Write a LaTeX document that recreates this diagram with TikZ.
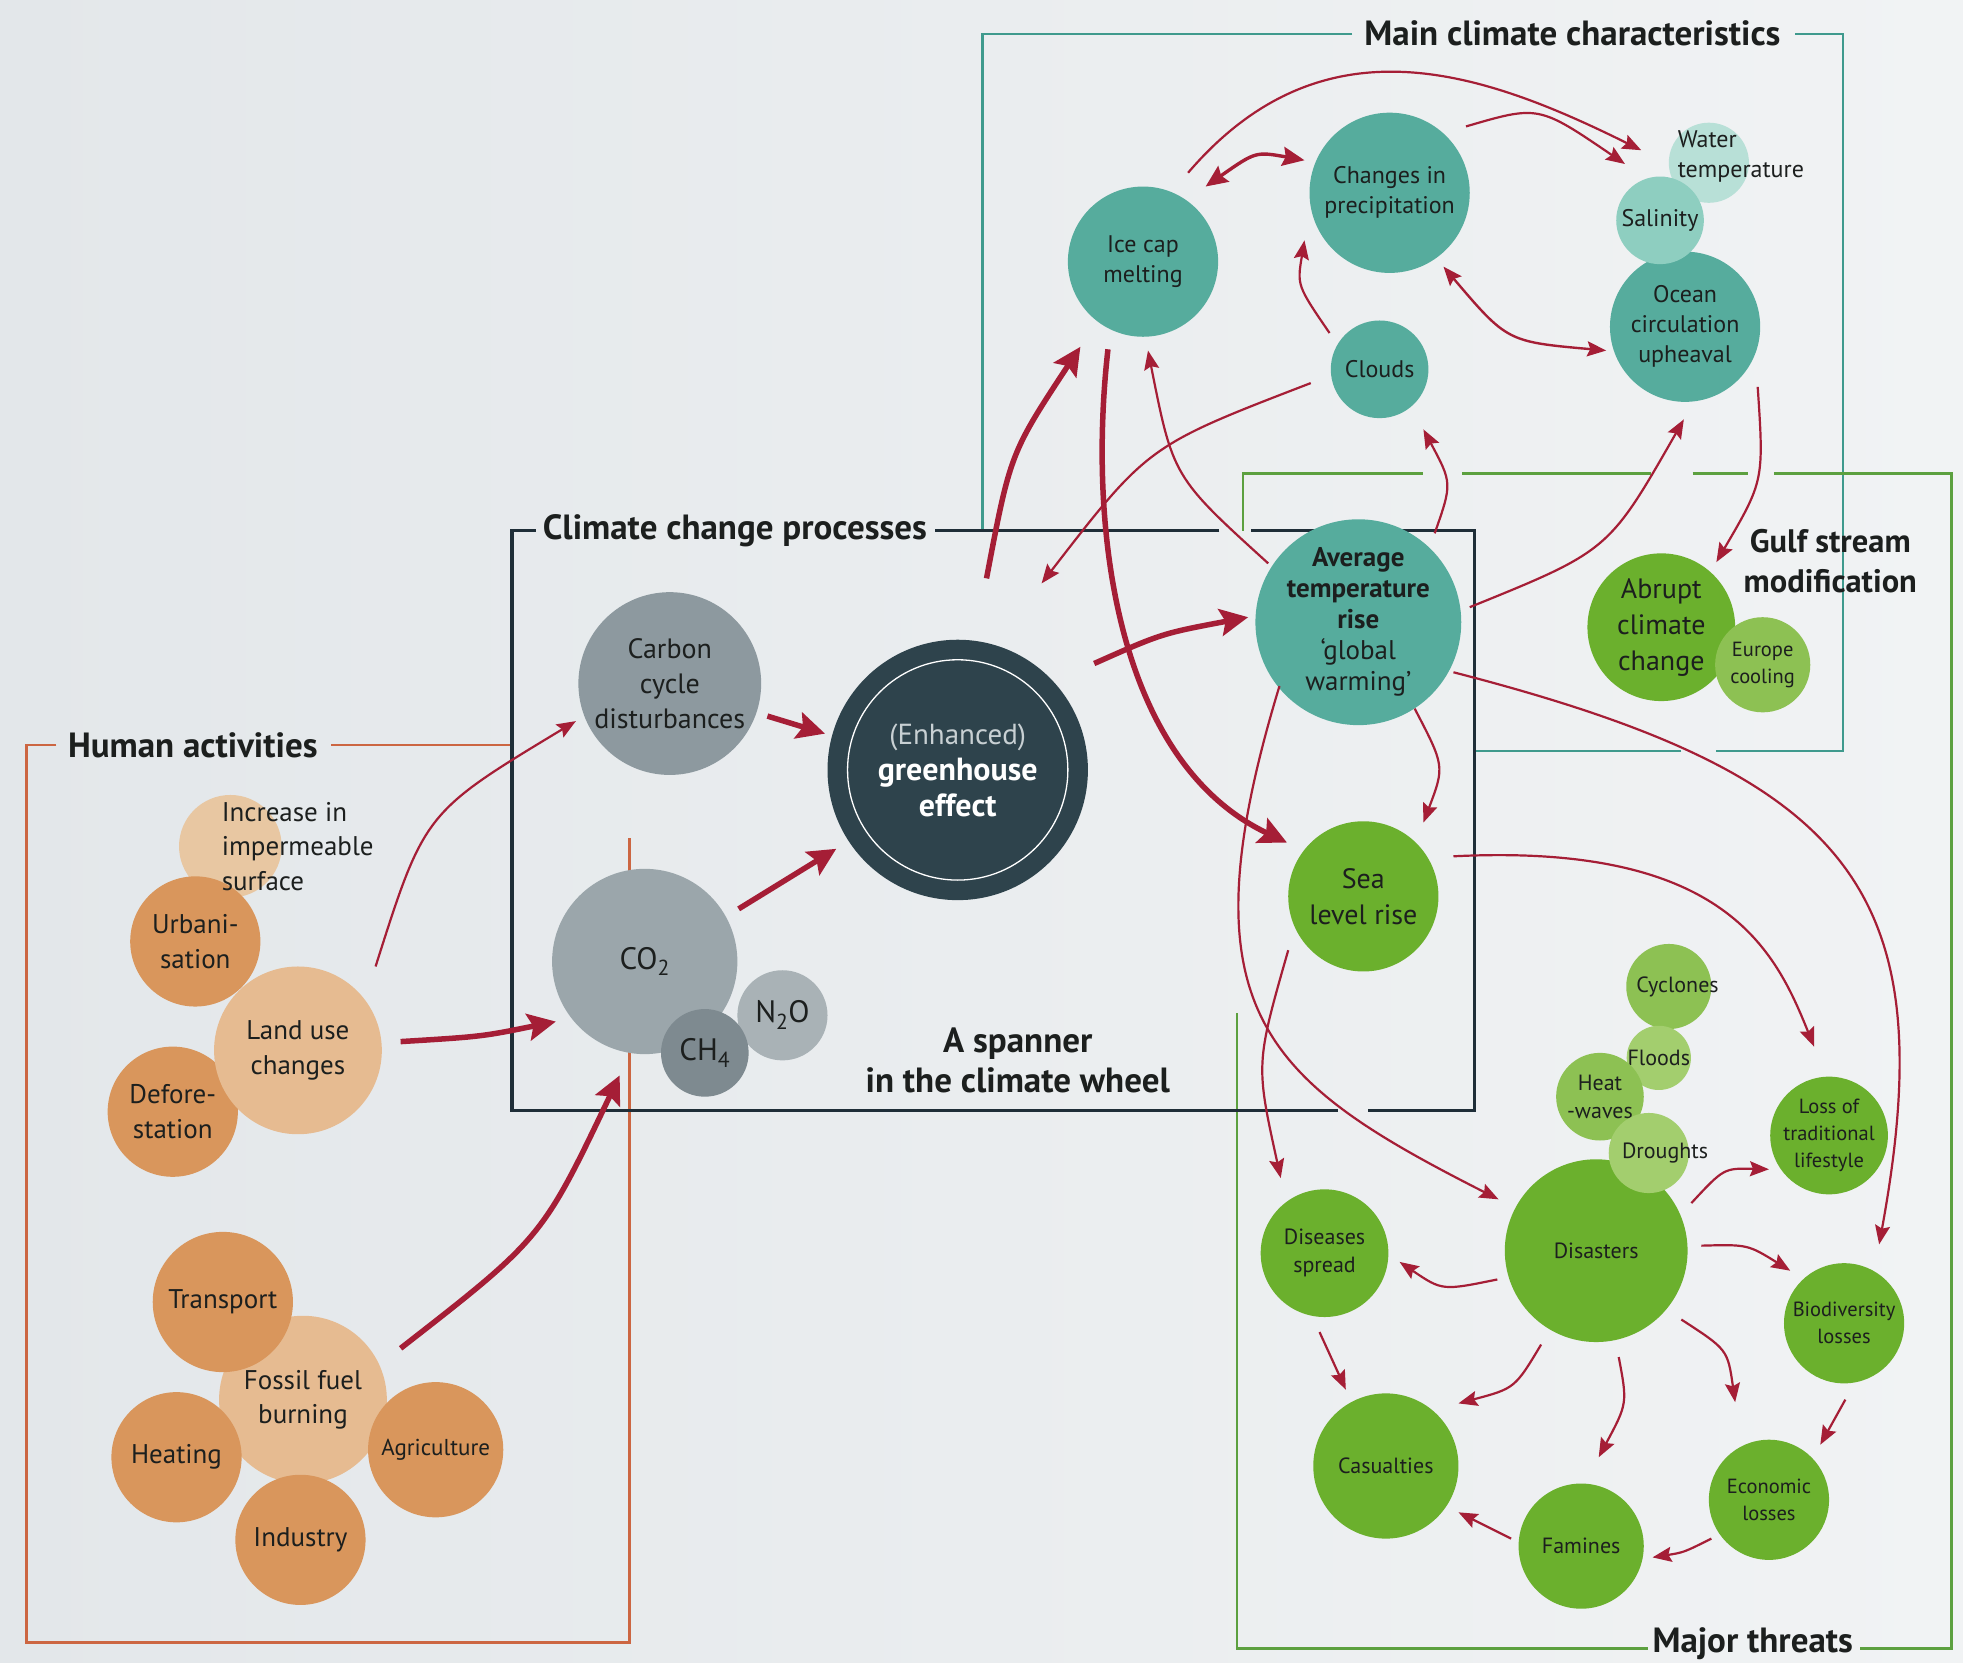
\documentclass[tikz,border=0pt]{standalone}
\usepackage{fontspec}
\setmainfont{PT Sans}
\usetikzlibrary{arrows.meta,calc}
\definecolor{bgL}{HTML}{E3E7EA}
\definecolor{bgR}{HTML}{F1F3F4}
\definecolor{redarrow}{HTML}{A51E36}
\definecolor{frOrange}{HTML}{CC6642}
\definecolor{frDark}{HTML}{1F2E38}
\definecolor{frTeal}{HTML}{3F9A8D}
\definecolor{frGreen}{HTML}{5CA03F}
\definecolor{txt}{HTML}{1C1F1E}
\definecolor{orD}{HTML}{D9965C}
\definecolor{orL}{HTML}{E6BB91}
\definecolor{orLL}{HTML}{E8C7A2}
\definecolor{grA}{HTML}{8D999F}
\definecolor{grB}{HTML}{9BA6AB}
\definecolor{grC}{HTML}{7E8A90}
\definecolor{grD}{HTML}{A9B2B6}
\definecolor{ghc}{HTML}{2E434C}
\definecolor{teA}{HTML}{56AC9D}
\definecolor{teB}{HTML}{8ECEC0}
\definecolor{teC}{HTML}{B8E0D7}
\definecolor{gnA}{HTML}{6BB02D}
\definecolor{gnB}{HTML}{8DC153}
\definecolor{gnC}{HTML}{A3CE6E}
\definecolor{enh}{HTML}{C8D0D3}
\newcommand\fHA{\fontsize{27}{34.5}\selectfont}
\newcommand\fHAs{\fontsize{23}{28}\selectfont}
\newcommand\fGR{\fontsize{28}{35}\selectfont}
\newcommand\fGAS{\fontsize{31}{36}\selectfont}
\newcommand\fGH{\fontsize{29}{36}\selectfont}
\newcommand\fGHb{\bfseries\fontsize{32}{36}\selectfont}
\newcommand\fTE{\fontsize{24}{30}\selectfont}
\newcommand\fAV{\fontsize{27}{31}\selectfont}
\newcommand\fBG{\fontsize{28}{36}\selectfont}
\newcommand\fTH{\fontsize{22}{28}\selectfont}
\newcommand\fSM{\fontsize{20.5}{27}\selectfont}
\newcommand\fTI{\bfseries\fontsize{35}{40}\selectfont}
\begin{document}
\begin{tikzpicture}[x=1.2519pt,y=-1.2519pt,
  circ/.style={circle,inner sep=0pt,minimum size={2.5038pt*#1},align=center,text=txt},
  tarr/.style={draw=redarrow,line width=2.2pt,-{Stealth[length=19pt,width=15pt,inset=3pt]}},
  karr/.style={draw=redarrow,line width=5.5pt,-{Stealth[length=28pt,width=27pt,inset=5pt]}},
  darr/.style={draw=redarrow,line width=2.4pt,{Stealth[length=19pt,width=15pt,inset=3pt]}-{Stealth[length=19pt,width=15pt,inset=3pt]}},
  marr/.style={draw=redarrow,line width=3.4pt,{Stealth[length=22pt,width=19pt,inset=3pt]}-{Stealth[length=22pt,width=19pt,inset=3pt]}},
  ttl/.style={font=\fTI,text=txt,align=center,inner sep=0pt},
  fro/.style={draw=frOrange,line width=2.6pt},
  frd/.style={draw=frDark,line width=3.2pt},
  frt/.style={draw=frTeal,line width=2.6pt},
  frg/.style={draw=frGreen,line width=2.6pt},
  lbl/.style={inner sep=0pt,text=txt,align=center}]
\useasboundingbox (0,0) rectangle (1568,1328);
\shade[left color=bgL,right color=bgR] (0,0) rectangle (1568,1328);

% ---------- frames ----------
\draw[fro] (409,595) -- (264,595);
\draw[fro] (45,595) -- (21,595) -- (21,1312) -- (503,1312) -- (503,669);
\draw[frt] (1080,27) -- (785,27) -- (785,424);
\draw[frt] (1434,27) -- (1472,27) -- (1472,600) -- (1371,600);
\draw[frt] (1343,600) -- (1178,600);
\draw[frg] (993,424) -- (993,378) -- (1137,378);
\draw[frg] (1168,378) -- (1319,378);
\draw[frg] (1352,378) -- (1396,378);
\draw[frg] (1417,378) -- (1559,378) -- (1559,1317) -- (1486,1317);
\draw[frg] (1316,1317) -- (988,1317) -- (988,809);
\draw[frd] (428,424) -- (409,424) -- (409,887) -- (1069,887);
\draw[frd] (1093,887) -- (1178,887) -- (1178,424) -- (999,424);
\draw[frd] (974,424) -- (747,424);

% ---------- titles ----------
\node[ttl] (tHuman) at (154,595) {Human activities};
\node[ttl] (tProc) at (587,424) {Climate change processes};
\node[ttl] (tMain) at (1256,27) {Main climate characteristics};
\node[ttl,font=\bfseries\fontsize{32.5}{40}\selectfont] (tGulf) at (1462,448) {Gulf stream\\modification};
\node[ttl] (tThreat) at (1400,1313) {Major threats};
\node[ttl] (tSpanner) at (813,847) {A spanner\\in the climate wheel};

% ---------- human activities ----------
\node[circ=41,fill=orLL] (inc) at (184,676) {};
\node[circ=52,fill=orD,font=\fHA] (urb) at (156,752) {Urbani-\\sation};
\node[lbl,anchor=west,align=left,font=\fHA] (inct) at (177,676) {Increase in\\impermeable\\surface};
\node[circ=52,fill=orD,font=\fHA] (defo) at (138,888) {Defore-\\station};
\node[circ=67,fill=orL,font=\fHA] (land) at (238,839) {Land use\\changes};
\node[circ=67,fill=orL,font=\fHA] (fossil) at (242,1118) {Fossil fuel\\burning};
\node[circ=56,fill=orD,font=\fHA] (trans) at (178,1040) {Transport};
\node[circ=52,fill=orD,font=\fHA] (heat) at (141,1164) {Heating};
\node[circ=54,fill=orD,font=\fHAs] (agri) at (348,1158) {Agriculture};
\node[circ=52,fill=orD,font=\fHA] (indus) at (240,1230) {Industry};

% ---------- processes ----------
\node[circ=73,fill=grA,font=\fGR] (carbon) at (535,546) {Carbon\\cycle\\disturbances};
\node[circ=74,fill=grB,font=\fGAS] (co2) at (515,768) {CO\textsubscript{2}};
\node[circ=36,fill=grD,font=\fGAS] (n2o) at (625,811) {N\textsubscript{2}O};
\node[circ=35,fill=grC,font=\fGAS] (ch4) at (563,841) {CH\textsubscript{4}};
\node[circ=104,fill=ghc,text=white,font=\fGH] (ghe) at (765,615) {{\color{enh}(Enhanced)}\\\fGHb greenhouse\\\fGHb effect};
\draw[white,line width=1.3pt] (ghe) circle[radius=88];

% ---------- main climate characteristics ----------
\node[circ=32,fill=teC] (water) at (1365,130) {};
\node[circ=60,fill=teA,font=\fTE] (ocean) at (1346,261) {Ocean\\circulation\\upheaval};
\node[circ=35,fill=teB,font=\fTE] (salin) at (1326,176) {Salinity};
\node[lbl,anchor=west,align=left,font=\fTE] (watert) at (1340,125) {Water\\temperature};
\node[circ=60,fill=teA,font=\fTE] (ice) at (913,209) {Ice cap\\melting};
\node[circ=64,fill=teA,font=\fTE] (precip) at (1110,154) {Changes in\\precipitation};
\node[circ=39,fill=teA,font=\fTE] (clouds) at (1102,295) {Clouds};
\node[circ=73,fill=teA,font=\fAV] (avg) at (1085,497) {\bfseries Average\\\bfseries temperature\\\bfseries rise\\‘global\\warming’};

% ---------- gulf stream ----------
\node[circ=59,fill=gnA,font=\fBG] (abrupt) at (1327,501) {Abrupt\\climate\\change};
\node[circ=38,fill=gnB,font=\fSM] (europe) at (1408,531) {Europe\\cooling};

% ---------- threats ----------
\node[circ=60,fill=gnA,font=\fBG] (sea) at (1089,716) {Sea\\level rise};
\node[circ=34,fill=gnB] (cyc) at (1333,788) {};
\node[lbl,font=\fTH] (cyct) at (1340,788) {Cyclones};
\node[circ=24,fill=gnC,font=\fTH] (flood) at (1325,845) {Floods};
\node[circ=35,fill=gnB,font=\fTH] (heatw) at (1278,876) {Heat\\-waves};
\node[circ=73,fill=gnA,font=\fTH] (dis) at (1275,999) {Disasters};
\node[circ=32,fill=gnC] (drought) at (1317,921) {};
\node[lbl,font=\fTH] (droughtt) at (1330,921) {Droughts};
\node[circ=47,fill=gnA,font=\fSM] (loss) at (1461,907) {Loss of\\traditional\\lifestyle};
\node[circ=51,fill=gnA,font=\fTH] (dise) at (1058,1001) {Diseases\\spread};
\node[circ=48,fill=gnA,font=\fSM] (bio) at (1473,1057) {Biodiversity\\losses};
\node[circ=58,fill=gnA,font=\fTH] (cas) at (1107,1171) {Casualties};
\node[circ=48,fill=gnA,font=\fSM] (econ) at (1413,1198) {Economic\\losses};
\node[circ=50,fill=gnA,font=\fTH] (fam) at (1263,1235) {Famines};

% ---------- arrows: human activities -> processes ----------
\draw[tarr] ($(land)+(62,-67)$) .. controls (339,649) .. ($(carbon)+(-75,30)$);
\draw[karr] ($(land)+(82,-7)$) .. controls (385,828) .. ($(co2)+(-71,48)$);
\draw[karr] ($(fossil)+(78,-41)$) .. controls (433,989) .. ($(co2)+(-20,91)$);
\draw[karr] ($(carbon)+(78,26)$) -- ($(ghe)+(-106,-29)$);
\draw[karr] ($(co2)+(75,-42)$) -- ($(ghe)+(-97,63)$);

% ---------- greenhouse effect outputs ----------
\draw[karr] ($(ice)+(-28,70)$) .. controls (868,430) and (895,610) .. ($(sea)+(-61,-43)$);
\draw[karr] ($(ghe)+(23,-153)$) .. controls (807,362) .. ($(ice)+(-50,68)$);
\draw[karr] ($(ghe)+(109,-85)$) .. controls (928,506) .. ($(avg)+(-88,-4)$);

% ---------- climate characteristics ----------
\draw[tarr] ($(clouds)+(-55,11)$) .. controls (917,356) .. ($(ghe)+(67,-149)$);
\draw[tarr] ($(avg)+(-72,-47)$) .. controls (937,381) .. ($(ice)+(4,71)$);
\draw[tarr] ($(avg)+(61,-71)$) .. controls (1160,386) .. ($(clouds)+(35,48)$);
\draw[tarr] ($(avg)+(89,-12)$) .. controls (1285,440) .. ($(ocean)+(-1,74)$);
\draw[tarr] ($(ocean)+(58,48)$) .. controls (1409,384) .. ($(abrupt)+(44,-52)$);
\draw[marr] ($(ice)+(50,-60)$) .. controls (1003,121) .. ($(precip)+(-68,-26)$);
\draw[tarr] ($(ice)+(36,-71)$) .. controls (1056,13) and (1182,56) .. ($(water)+(-54,-10)$);
\draw[tarr] ($(precip)+(61,-53)$) .. controls (1229,84) .. ($(salin)+(-28,-45)$);
\draw[darr] ($(precip)+(43,59)$) .. controls (1204,273) .. ($(ocean)+(-63,19)$);
\draw[tarr] ($(clouds)+(-40,-29)$) .. controls (1036,228) .. ($(precip)+(-68,38)$);

% ---------- average temperature -> threats ----------
\draw[tarr] ($(avg)+(45,69)$) .. controls (1154,612) .. ($(sea)+(48,-59)$);
\draw[tarr] ($(avg)+(76,40)$) .. controls (1479,619) and (1553,710) .. ($(bio)+(28,-63)$);
\draw[tarr] ($(sea)+(72,-32)$) .. controls (1378,673) and (1418,759) .. ($(loss)+(-12,-71)$);
\draw[tarr] ($(avg)+(-63,51)$) .. controls (943,808) and (1010,863) .. ($(dis)+(-78,-41)$);
\draw[tarr] ($(sea)+(-60,43)$) .. controls (1003,850) .. ($(dise)+(-35,-60)$);

% ---------- major threats ----------
\draw[tarr] ($(dis)+(76,-38)$) .. controls (1377,933) .. ($(loss)+(-48,27)$);
\draw[tarr] ($(dis)+(84,-4)$) .. controls (1396,994) .. ($(bio)+(-43,-42)$);
\draw[tarr] ($(dis)+(-79,23)$) .. controls (1152,1031) .. ($(dise)+(60,7)$);
\draw[tarr] ($(dis)+(-44,75)$) .. controls (1210,1109) .. ($(cas)+(58,-50)$);
\draw[tarr] ($(dis)+(18,85)$) .. controls (1300,1121) .. ($(fam)+(14,-71)$);
\draw[tarr] ($(dis)+(68,55)$) .. controls (1380,1078) .. ($(econ)+(-27,-78)$);
\draw[tarr] ($(dise)+(-4,63)$) -- ($(cas)+(-32,-61)$);
\draw[tarr] ($(bio)+(1,61)$) -- ($(econ)+(41,-44)$);
\draw[tarr] ($(econ)+(-46,31)$) .. controls (1345,1240) .. ($(fam)+(57,9)$);
\draw[tarr] ($(fam)+(-56,-6)$) -- ($(cas)+(58,37)$);
\end{tikzpicture}
\end{document}
